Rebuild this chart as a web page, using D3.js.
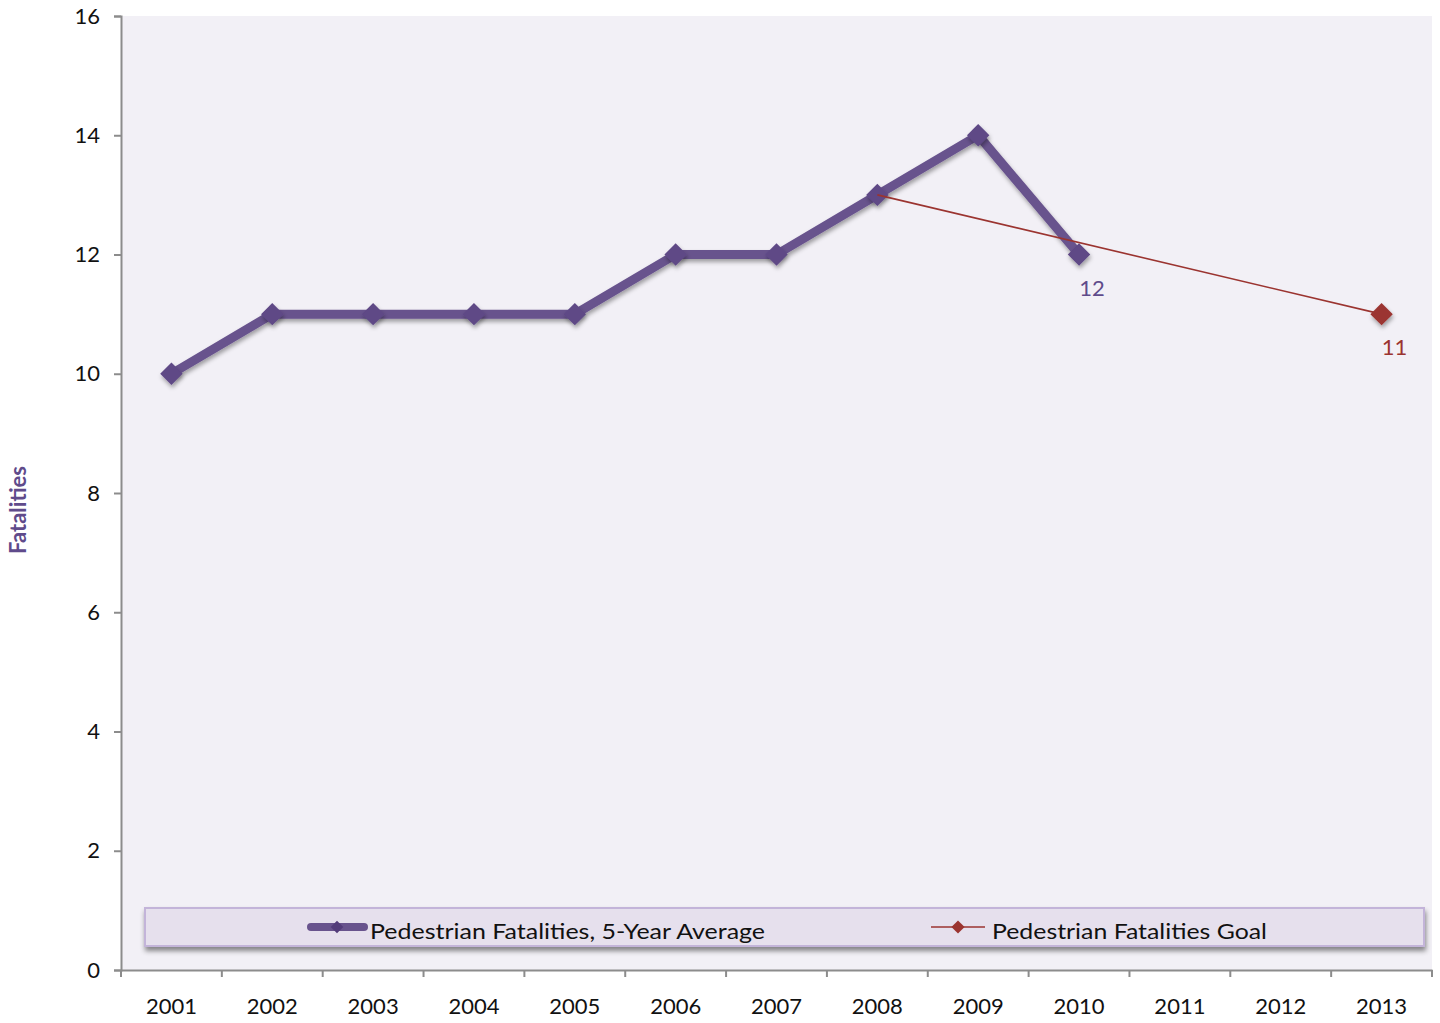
<!DOCTYPE html>
<html>
<head>
<meta charset="utf-8">
<script src="https://cdn.jsdelivr.net/npm/d3@7"></script>
<style>
  body { margin: 0; background: #fff; }
  text { font-family: Lato, "Open Sans", sans-serif; }
</style>
</head>
<body>
<svg id="chart" width="1440" height="1023"></svg>
<script>
// data
const years = ["2001","2002","2003","2004","2005","2006","2007","2008","2009","2010","2011","2012","2013"];
const avgYears = ["2001","2002","2003","2004","2005","2006","2007","2008","2009","2010"];
const avgValues = [10, 11, 11, 11, 11, 12, 12, 13, 14, 12];
const goalYears = ["2008", "2013"];
const goalValues = [13, 11];
const yTicks = [0, 2, 4, 6, 8, 10, 12, 14, 16];

const purple = "#68538d";
const purpleDark = "#5e4886";
const red = "#9b3430";

const svg = d3.select("#chart");
const plotLeft = 121, plotRight = 1432, plotTop = 16, plotBottom = 970;

const x = d3.scaleBand().domain(years).range([plotLeft, plotRight]);
const y = d3.scaleLinear().domain([0, 16]).range([plotBottom, plotTop]);
const cx = d => x(d) + x.bandwidth() / 2;

// filters
const defs = svg.append("defs");
const sh = defs.append("filter").attr("id", "shadow")
  .attr("x", "-50%").attr("y", "-50%").attr("width", "200%").attr("height", "200%");
sh.append("feDropShadow").attr("dx", 1).attr("dy", 3).attr("stdDeviation", 2)
  .attr("flood-color", "#000").attr("flood-opacity", 0.35);
const lsh = defs.append("filter").attr("id", "legshadow")
  .attr("x", "-5%").attr("y", "-50%").attr("width", "110%").attr("height", "200%");
lsh.append("feDropShadow").attr("dx", 1).attr("dy", 4).attr("stdDeviation", 2.5)
  .attr("flood-color", "#000").attr("flood-opacity", 0.45);

// plot background
svg.append("rect").attr("x", plotLeft).attr("y", plotTop)
  .attr("width", plotRight - plotLeft).attr("height", plotBottom - plotTop)
  .attr("fill", "#f2f0f6");

// y axis
const yAxis = svg.append("g").attr("transform", `translate(${plotLeft},0)`)
  .call(d3.axisLeft(y).tickValues(yTicks).tickSize(7).tickPadding(14));
yAxis.select(".domain").attr("stroke", "#8c8c8c").attr("stroke-width", 2);
yAxis.selectAll(".tick line").attr("stroke", "#8c8c8c").attr("stroke-width", 2);
yAxis.selectAll(".tick text").attr("font-size", 22).attr("fill", "#111");

// x axis, ticks at category boundaries
const xAxis = svg.append("g").attr("transform", `translate(0,${plotBottom})`)
  .call(d3.axisBottom(x).tickSize(0).tickPadding(28));
xAxis.select(".domain").attr("stroke", "#8c8c8c").attr("stroke-width", 2);
xAxis.selectAll(".tick text").attr("font-size", 22).attr("fill", "#111");
xAxis.selectAll(".bound").data(years.concat(["end"])).join("line")
  .attr("class", "bound")
  .attr("x1", (d, i) => i < years.length ? x(d) : plotRight)
  .attr("x2", (d, i) => i < years.length ? x(d) : plotRight)
  .attr("y1", 0).attr("y2", 7)
  .attr("stroke", "#8c8c8c").attr("stroke-width", 2);

// axis title
svg.append("text")
  .attr("transform", "translate(26,510) rotate(-90)")
  .attr("text-anchor", "middle")
  .attr("font-size", 22).attr("font-weight", "bold")
  .attr("fill", "#5f4b8b")
  .text("Fatalities");

// 5-year average series
const avgData = avgYears.map((d, i) => ({ year: d, value: avgValues[i] }));
const goalData = goalYears.map((d, i) => ({ year: d, value: goalValues[i] }));
const line = d3.line().x(d => cx(d.year)).y(d => y(d.value));

svg.append("path").datum(avgData)
  .attr("d", line)
  .attr("fill", "none").attr("stroke", purple)
  .attr("stroke-width", 9).attr("stroke-linejoin", "round")
  .attr("filter", "url(#shadow)");

const diamond = d3.symbol().type(d3.symbolDiamond2);
svg.selectAll(".avgpt").data(avgData).join("path")
  .attr("class", "avgpt")
  .attr("transform", d => `translate(${cx(d.year)},${y(d.value)})`)
  .attr("d", diamond.size(320)())
  .attr("fill", purpleDark)
  .attr("filter", "url(#shadow)");

// goal series
svg.append("path").datum(goalData)
  .attr("d", line)
  .attr("fill", "none").attr("stroke", red).attr("stroke-width", 1.6);

svg.selectAll(".goalpt").data(goalData.slice(-1)).join("path")
  .attr("class", "goalpt")
  .attr("transform", d => `translate(${cx(d.year)},${y(d.value)})`)
  .attr("d", diamond.size(320)())
  .attr("fill", red)
  .attr("filter", "url(#shadow)");

// data labels
const lastAvg = avgData[avgData.length - 1];
svg.append("text")
  .attr("x", cx(lastAvg.year) + 13).attr("y", y(lastAvg.value) + 41)
  .attr("text-anchor", "middle").attr("font-size", 22).attr("fill", "#5f4b8b")
  .text(lastAvg.value);
const lastGoal = goalData[goalData.length - 1];
svg.append("text")
  .attr("x", cx(lastGoal.year) + 13).attr("y", y(lastGoal.value) + 41)
  .attr("text-anchor", "middle").attr("font-size", 22).attr("fill", red)
  .text(lastGoal.value);

// legend
const leg = svg.append("g");
leg.append("rect")
  .attr("x", 145).attr("y", 908).attr("width", 1279).attr("height", 38)
  .attr("fill", "#e6e0ed").attr("stroke", "#c3b4d9").attr("stroke-width", 2)
  .attr("filter", "url(#legshadow)");

leg.append("line").attr("x1", 311).attr("x2", 364).attr("y1", 927).attr("y2", 927)
  .attr("stroke", purple).attr("stroke-width", 8).attr("stroke-linecap", "round");
leg.append("path").attr("transform", "translate(337,927)")
  .attr("d", diamond.size(100)()).attr("fill", "#533c7a");
leg.append("text").attr("x", 370).attr("y", 939)
  .attr("font-size", 22).attr("fill", "#111")
  .attr("textLength", 395).attr("lengthAdjust", "spacingAndGlyphs")
  .text("Pedestrian Fatalities, 5-Year Average");

leg.append("line").attr("x1", 931).attr("x2", 985).attr("y1", 927).attr("y2", 927)
  .attr("stroke", red).attr("stroke-width", 1.6);
leg.append("path").attr("transform", "translate(958,927)")
  .attr("d", diamond.size(110)()).attr("fill", red);
leg.append("text").attr("x", 992).attr("y", 939)
  .attr("font-size", 22).attr("fill", "#111")
  .attr("textLength", 275).attr("lengthAdjust", "spacingAndGlyphs")
  .text("Pedestrian Fatalities Goal");
</script>
</body>
</html>
